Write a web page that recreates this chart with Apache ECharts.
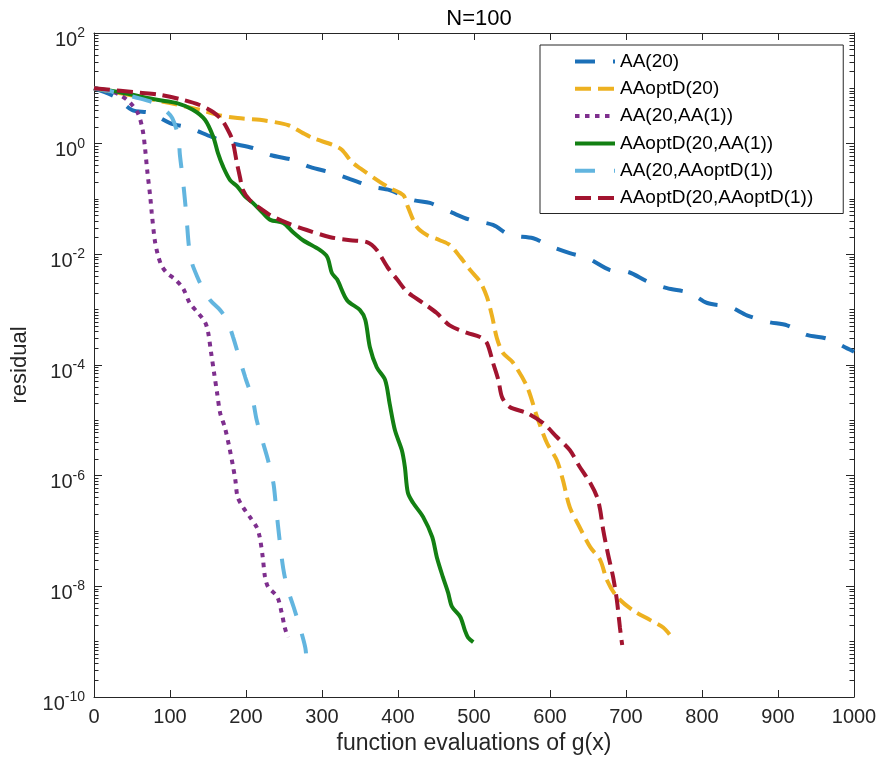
<!DOCTYPE html>
<html>
<head>
<meta charset="utf-8">
<script src="https://cdn.jsdelivr.net/npm/echarts@6/dist/echarts.min.js"></script>
<style>
html,body{margin:0;padding:0;background:#fff;}
#chart{width:880px;height:760px;}
</style>
</head>
<body>
<div id="chart"></div>
<script>
// ---- data ----
const seriesNames = ['AA(20)', 'AAoptD(20)', 'AA(20,AA(1))', 'AAoptD(20,AA(1))', 'AA(20,AAoptD(1))', 'AAoptD(20,AAoptD(1))'];

const aa20X = [0, 28, 50, 74, 100, 126, 155, 179, 209, 232, 262, 284, 314, 337, 366, 389, 420, 442, 472, 495, 525, 547, 578, 600, 626, 650, 679, 703, 729, 754, 784, 807, 837, 859, 887, 912, 938, 964, 991, 1000];
const aa20Y = [10, 7.0, 4.06, 3.58, 2.36, 1.92, 1.32, 1.03, 0.836, 0.624, 0.507, 0.38, 0.295, 0.229, 0.166, 0.145, 0.0955, 0.085, 0.056, 0.042, 0.034, 0.0224, 0.0195, 0.0141, 0.0105, 0.0085, 0.0052, 0.0048, 0.0032, 0.00245, 0.002, 0.00132, 0.00112, 0.00079, 0.0006, 0.00052, 0.00035, 0.0003, 0.0002, 0.000174];

const aaoptd20X = [0, 47, 100, 139, 163, 189, 218, 245, 258, 275, 288, 314, 326, 339, 350, 376, 389, 407, 413, 425, 438, 455, 468, 482, 495, 508, 517, 524, 530, 538, 551, 570, 583, 596, 609, 617, 626, 639, 653, 666, 675, 688, 709, 732, 749, 761];
const aaoptd20Y = [10, 7.6, 5.4, 4.1, 3.3, 2.9, 2.7, 2.35, 2.1, 1.55, 1.26, 0.95, 0.78, 0.47, 0.36, 0.204, 0.158, 0.117, 0.072, 0.031, 0.0224, 0.018, 0.0148, 0.0089, 0.0052, 0.0032, 0.0017, 0.00074, 0.00031, 0.000166, 0.000112, 4.0e-5, 1.15e-5, 3.9e-6, 1.9e-6, 8.3e-7, 2.7e-7, 1.17e-7, 5.1e-8, 3.0e-8, 1.29e-8, 6.5e-9, 3.7e-9, 2.45e-9, 1.8e-9, 1.17e-9];

const aaAaX = [0, 21, 34, 47, 58, 64, 67, 70, 74, 76, 80, 84, 89, 96, 107, 117, 126, 137, 146, 150, 154, 158, 162, 166, 172, 178, 183, 186, 189, 196, 205, 214, 218, 222, 225, 229, 241, 247, 251, 255];
const aaAaY = [10, 8.9, 7.6, 5.6, 3.5, 1.78, 0.87, 0.33, 0.11, 0.056, 0.018, 0.0098, 0.0062, 0.0046, 0.0035, 0.00245, 0.00132, 0.00087, 0.0006, 0.0004, 0.00017, 7.2e-5, 3.1e-5, 1.35e-5, 7.6e-6, 3.3e-6, 1.45e-6, 8.3e-7, 4.1e-7, 2.7e-7, 1.8e-7, 1.17e-7, 7.8e-8, 3.4e-8, 1.48e-8, 9.8e-9, 6.5e-9, 3.3e-9, 1.8e-9, 1.2e-9];

const optAaX = [0, 34, 83, 109, 130, 146, 157, 163, 170, 179, 189, 199, 209, 222, 232, 249, 262, 275, 297, 307, 313, 320, 333, 350, 357, 363, 372, 383, 389, 396, 405, 409, 413, 420, 433, 445, 451, 459, 466, 471, 482, 488, 492, 499];
const optAaY = [10, 8.5, 6.2, 5.4, 4.1, 2.7, 1.32, 0.68, 0.38, 0.22, 0.166, 0.11, 0.085, 0.056, 0.042, 0.037, 0.025, 0.018, 0.012, 0.0089, 0.0046, 0.0035, 0.00148, 0.00098, 0.00065, 0.00021, 9.1e-5, 5.4e-5, 2.0e-5, 6.6e-6, 2.9e-6, 1.45e-6, 4.9e-7, 3.2e-7, 1.8e-7, 7.8e-8, 3.4e-8, 1.48e-8, 7.6e-9, 4.3e-9, 2.8e-9, 1.6e-9, 1.2e-9, 9.8e-10];

const aaOptX = [0, 28, 54, 80, 93, 103, 111, 113, 117, 120, 122, 125, 129, 136, 142, 153, 166, 175, 183, 192, 199, 209, 214, 222, 229, 236, 239, 242, 245, 249, 254, 263, 271, 278, 280];
const aaOptY = [10, 8.5, 6.9, 5.4, 4.1, 2.9, 1.32, 0.63, 0.22, 0.085, 0.042, 0.0135, 0.0069, 0.0039, 0.0026, 0.00148, 0.00098, 0.00065, 0.00032, 0.000123, 6.0e-5, 2.3e-5, 1.02e-5, 4.1e-6, 1.9e-6, 7.4e-7, 3.2e-7, 1.29e-7, 5.6e-8, 2.1e-8, 9.8e-9, 4.1e-9, 1.8e-9, 7.8e-10, 4.1e-10];

const optOptX = [0, 61, 87, 117, 139, 157, 168, 175, 182, 188, 192, 196, 205, 218, 232, 254, 280, 311, 337, 359, 372, 386, 399, 412, 433, 451, 468, 491, 508, 517, 525, 532, 537, 547, 570, 591, 609, 626, 639, 653, 662, 666, 670, 676, 683, 688, 692, 695];
const optOptY = [10, 8.3, 7.6, 6.2, 5.0, 3.7, 2.7, 1.9, 1.17, 0.45, 0.25, 0.145, 0.095, 0.069, 0.051, 0.037, 0.0275, 0.0204, 0.018, 0.0166, 0.012, 0.0059, 0.0035, 0.0021, 0.00132, 0.00087, 0.00052, 0.00038, 0.00032, 0.00025, 0.00011, 5.4e-5, 2.6e-5, 1.74e-5, 1.35e-5, 8.9e-6, 5.0e-6, 2.9e-6, 1.45e-6, 7.4e-7, 4.1e-7, 2.4e-7, 1.05e-7, 4.0e-8, 1.48e-8, 5.6e-9, 1.8e-9, 8.7e-10];

const xTicks = [0, 100, 200, 300, 400, 500, 600, 700, 800, 900, 1000];
const yDecadeExponents = [-10, -9, -8, -7, -6, -5, -4, -3, -2, -1, 0, 1];
const minorMantissas = [2, 3, 4, 5, 6, 7, 8, 9];

// ---- build ----
function pairs(xs, ys) { return xs.map((x, i) => [x, ys[i]]); }
const minorTickVals = [];
yDecadeExponents.forEach(k => {
  if (k % 2 !== 0) minorTickVals.push(k);
  minorMantissas.forEach(m => minorTickVals.push(k + Math.log10(m)));
});

const FONT = 'Liberation Sans, Arial, Helvetica, sans-serif';
const AX = '#262626';

const styles = [
  { color: '#1c70b8', type: [20, 18] },
  { color: '#edb120', type: [16, 7] },
  { color: '#7e2f8e', type: [4.5, 5.5] },
  { color: '#138013', type: 'solid' },
  { color: '#62b5df', type: [20, 19] },
  { color: '#a2142f', type: [16, 7] }
];
const dataSets = [
  pairs(aa20X, aa20Y), pairs(aaoptd20X, aaoptd20Y), pairs(aaAaX, aaAaY),
  pairs(optAaX, optAaY), pairs(aaOptX, aaOptY), pairs(optOptX, optOptY)
];

const series = seriesNames.map((n, i) => ({
  name: n,
  type: 'line',
  xAxisIndex: 0,
  yAxisIndex: 0,
  data: dataSets[i],
  symbol: 'none',
  showSymbol: false,
  smooth: 0.3,
  silent: true,
  animation: false,
  lineStyle: { color: styles[i].color, width: 4, type: styles[i].type, cap: 'butt' },
  itemStyle: { color: styles[i].color }
}));

const supLabel = function (v) {
  const e = Math.round(Math.log10(v));
  return '{b|10}{s|' + e + '}';
};
const richY = {
  b: { fontSize: 20, fontFamily: FONT, color: AX, verticalAlign: 'bottom', lineHeight: 24 },
  s: { fontSize: 14, fontFamily: FONT, color: AX, verticalAlign: 'top', lineHeight: 14 }
};

const chart = echarts.init(document.getElementById('chart'), null, { renderer: 'canvas' });
chart.setOption({
  animation: false,
  backgroundColor: '#fff',
  title: {
    text: 'N=100', left: 474, top: 3, textAlign: 'center',
    textStyle: { fontSize: 22, fontWeight: 'normal', fontFamily: FONT, color: '#000' }
  },
  grid: { left: 94, right: 26, top: 33, bottom: 63, containLabel: false },
  legend: {
    data: seriesNames,
    orient: 'vertical',
    left: 540, top: 45,
    padding: [7, 30, 6, 33],
    itemWidth: 40, itemHeight: 19, itemGap: 8.3,
    borderColor: AX, borderWidth: 1, backgroundColor: '#fff',
    selectedMode: false,
    lineStyle: { width: 4 },
    itemStyle: { opacity: 0, borderWidth: 0 },
    textStyle: { fontSize: 19, fontFamily: FONT, color: '#000' }
  },
  xAxis: [
    {
      type: 'value', min: 0, max: 1000, interval: 100, position: 'bottom',
      name: 'function evaluations of g(x)', nameLocation: 'middle', nameGap: 31,
      nameTextStyle: { fontSize: 23, fontFamily: FONT, color: AX },
      axisLine: { onZero: false, lineStyle: { color: AX, width: 1 } },
      axisTick: { inside: true, length: 7, lineStyle: { color: AX } },
      axisLabel: { fontSize: 20, fontFamily: FONT, color: AX, margin: 10, formatter: v => String(v) },
      splitLine: { show: false }
    },
    {
      type: 'value', min: 0, max: 1000, interval: 100, position: 'top',
      axisLine: { onZero: false, lineStyle: { color: AX, width: 1 } },
      axisTick: { inside: true, length: 7, lineStyle: { color: AX } },
      axisLabel: { show: false },
      splitLine: { show: false }
    }
  ],
  yAxis: [
    {
      type: 'log', logBase: 10, min: 1e-10, max: 1e2, interval: 2, position: 'left',
      name: 'residual', nameLocation: 'middle', nameGap: 63,
      nameTextStyle: { fontSize: 22, fontFamily: FONT, color: AX },
      axisLine: { show: true, onZero: false, lineStyle: { color: AX, width: 1 } },
      axisTick: { inside: true, length: 8, lineStyle: { color: AX } },
      axisLabel: { formatter: supLabel, rich: richY, margin: 9, padding: [10, 0, 0, 0] },
      splitLine: { show: false }
    },
    {
      type: 'value', min: -10, max: 2, position: 'left',
      axisLine: { show: false, onZero: false },
      axisTick: { show: true, inside: true, length: 4.5, customValues: minorTickVals, lineStyle: { color: AX } },
      axisLabel: { show: false },
      splitLine: { show: false }
    },
    {
      type: 'log', logBase: 10, min: 1e-10, max: 1e2, interval: 2, position: 'right',
      axisLine: { show: true, onZero: false, lineStyle: { color: AX, width: 1 } },
      axisTick: { inside: true, length: 8, lineStyle: { color: AX } },
      axisLabel: { show: false },
      splitLine: { show: false }
    },
    {
      type: 'value', min: -10, max: 2, position: 'right',
      axisLine: { show: false, onZero: false },
      axisTick: { show: true, inside: true, length: 4.5, customValues: minorTickVals, lineStyle: { color: AX } },
      axisLabel: { show: false },
      splitLine: { show: false }
    }
  ],
  series: series
});
</script>
</body>
</html>
